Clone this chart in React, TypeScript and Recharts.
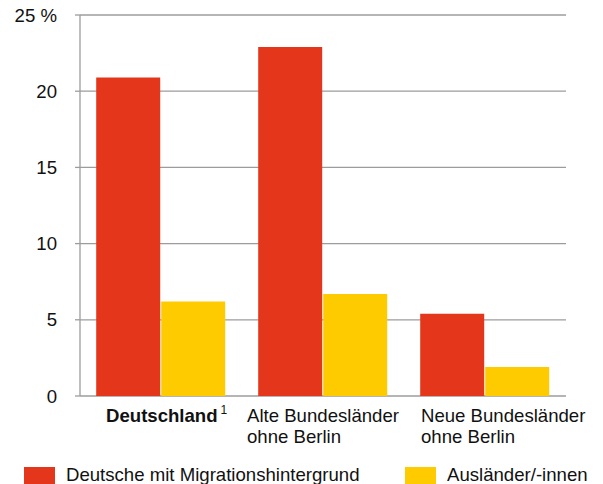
import { BarChart, Bar, XAxis, YAxis, CartesianGrid } from "recharts";

const FONT = "'Liberation Sans', Arial, Helvetica, sans-serif";
const FS = 18.6;
const RED = "#e3361a";
const YELLOW = "#fecb00";
const GRID = "#9c9c9c";

// Regionen (Zeilen der Achsenbeschriftung)
const regions = ["Deutschland", "Alte Bundesländer", "Neue Bundesländer"];
const regionSubLines = ["", "ohne Berlin", "ohne Berlin"];

// Anteile in %
const deutscheMitMigration = [20.9, 22.9, 5.4];
const auslaender = [6.2, 6.7, 1.9];

const yTicks = [0, 5, 10, 15, 20, 25];

const seriesNames = ["Deutsche mit Migrationshintergrund", "Ausländer/-innen"];

const data = regions.map((name, i) => ({
  name,
  migration: deutscheMitMigration[i],
  auslaender: auslaender[i],
}));

// horizontal start of each label relative to the category centre
const labelShift = [-55, -76, -64];

const RegionTick = (props: any) => {
  const { x, y, payload, index } = props;
  const sub = regionSubLines[index];
  const first = index === 0;
  return (
    <g>
      <text
        x={x + labelShift[index]}
        y={y + 25.5}
        textAnchor="start"
        fontFamily={FONT}
        fontSize={FS}
        fill="#111"
        fontWeight={first ? 700 : 400}
      >
        {payload.value}
        {first && (
          <tspan fontSize={12} fontWeight={400} dx={3} dy={-8}>
            1
          </tspan>
        )}
      </text>
      {sub && (
        <text
          x={x + labelShift[index]}
          y={y + 47}
          textAnchor="start"
          fontFamily={FONT}
          fontSize={FS}
          fill="#111"
        >
          {sub}
        </text>
      )}
    </g>
  );
};

const legendItems = [
  { name: seriesNames[0], color: RED, left: 24 },
  { name: seriesNames[1], color: YELLOW, left: 405 },
];

export default function App() {
  return (
    <div
      style={{
        position: "fixed",
        left: 0,
        top: 0,
        width: 603,
        height: 484,
        overflow: "hidden",
        background: "#fff",
        fontFamily: FONT,
      }}
    >
      <BarChart
        width={603}
        height={484}
        data={data}
        margin={{ top: 15, right: 37, bottom: 38, left: 0 }}
        barCategoryGap="10%"
        barGap={1}
      >
        <CartesianGrid vertical={false} stroke={GRID} strokeWidth={1.3} />
        <XAxis
          dataKey="name"
          height={50}
          axisLine={false}
          tickLine={false}
          tickSize={0}
          tickMargin={0}
          interval={0}
          tick={<RegionTick />}
        />
        <YAxis
          width={80}
          domain={[0, 25]}
          ticks={yTicks}
          interval={0}
          axisLine={{ stroke: GRID, strokeWidth: 1.3 }}
          tickLine={{ stroke: GRID, strokeWidth: 1.3 }}
          tickSize={5}
          tickMargin={18}
          tick={{ fontFamily: FONT, fontSize: FS, fill: "#111" }}
          tickFormatter={(v: number) => (v === 25 ? "25 %" : String(v))}
        />
        <Bar dataKey="migration" name={seriesNames[0]} fill={RED} isAnimationActive={false} />
        <Bar dataKey="auslaender" name={seriesNames[1]} fill={YELLOW} isAnimationActive={false} />
      </BarChart>
      {legendItems.map((item) => (
        <div
          key={item.name}
          style={{
            position: "absolute",
            left: item.left,
            top: 466,
            display: "flex",
            alignItems: "flex-start",
            fontSize: FS,
            lineHeight: "18px",
            color: "#111",
            whiteSpace: "nowrap",
          }}
        >
          <span
            style={{
              display: "inline-block",
              width: 31,
              height: 18,
              marginTop: 1,
              background: item.color,
            }}
          />
          <span style={{ marginLeft: 11 }}>{item.name}</span>
        </div>
      ))}
    </div>
  );
}
